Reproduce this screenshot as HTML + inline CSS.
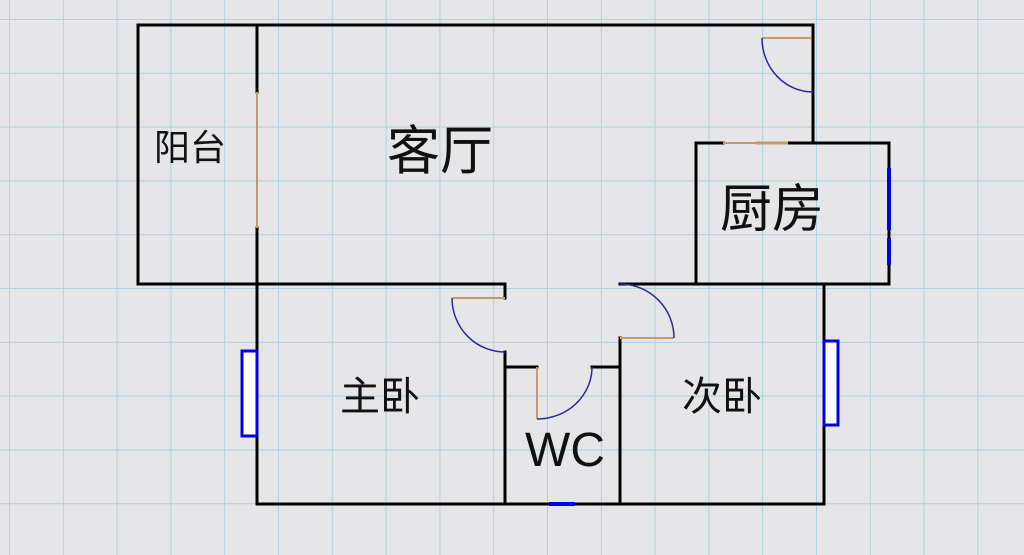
<!DOCTYPE html>
<html><head><meta charset="utf-8"><style>
html,body{margin:0;padding:0;background:#e6e6e8;}
svg{display:block}
text{font-family:"Liberation Sans","Noto Sans CJK SC",sans-serif;fill:#111}
</style></head><body>
<svg width="1024" height="555" viewBox="0 0 1024 555" xmlns="http://www.w3.org/2000/svg">
<defs>
<pattern id="g" x="9" y="19" width="53.8" height="53.8" patternUnits="userSpaceOnUse">
<path d="M0 0V53.8M0 0H53.8" stroke="#aed3dc" stroke-width="2" fill="none"/>
</pattern>
</defs>
<rect width="1024" height="555" fill="#e6e6e8"/>
<rect width="1024" height="555" fill="url(#g)"/>
<g stroke="#000" stroke-width="3" fill="none" stroke-linecap="square">
<path d="M138 25H813V143"/>
<path d="M138 25V284H505V298"/>
<path d="M257 25V92"/>
<path d="M257 228V504"/>
<path d="M696 143V284"/>
<path d="M696 143H723M788 143H889V284H620"/>
<path d="M824 284V504H257"/>
<path d="M620 338V504"/>
<path d="M505 352V504"/>
<path d="M508 367H537M592 367H620"/>
</g>
<g stroke="#c49a68" stroke-width="2" fill="none">
<path d="M257 92V228"/>
<path d="M762 38H811"/>
<path d="M723 143H756"/>
<path d="M756 143H788" stroke-width="3"/>
<path d="M452 298H505"/>
<path d="M620 338H674"/>
<path d="M537 367V419"/>
</g>
<g stroke="#2a2aa0" stroke-width="1.5" fill="none">
<path d="M762 38A51 54 0 0 0 813 92"/>
<path d="M452 298A53 54 0 0 0 505 352"/>
<path d="M620 284A54 54 0 0 1 674 338"/>
<path d="M537 419A55 52 0 0 0 592 367"/>
</g>
<rect x="242" y="351" width="15" height="85" fill="#fff" stroke="#0000e0" stroke-width="3"/>
<path d="M889 168V230M889 238V265" stroke="#0000e0" stroke-width="4"/>
<rect x="824" y="341" width="14" height="84" fill="#fff" stroke="#0000e0" stroke-width="3"/>
<path d="M549 504H575" stroke="#0000e0" stroke-width="4"/>
<text x="190" y="160" font-size="36" text-anchor="middle">阳台</text>
<text x="440" y="169" font-size="53" text-anchor="middle">客厅</text>
<text x="772" y="227" font-size="52" text-anchor="middle">厨房</text>
<text x="380" y="410" font-size="40" text-anchor="middle">主卧</text>
<text x="722" y="410" font-size="40" text-anchor="middle">次卧</text>
<text x="565" y="466" font-size="48" text-anchor="middle">WC</text>
</svg>
</body></html>
